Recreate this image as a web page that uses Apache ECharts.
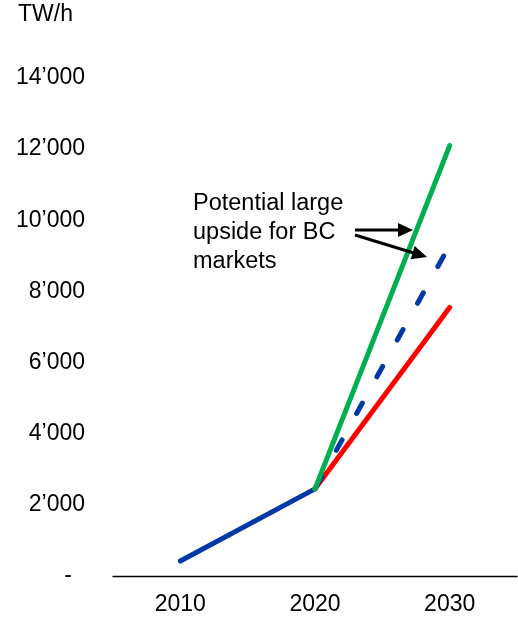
<!DOCTYPE html>
<html>
<head>
<meta charset="utf-8">
<script src="https://cdn.jsdelivr.net/npm/echarts@6/dist/echarts.min.js"></script>
<style>
  html, body { margin: 0; padding: 0; background: #ffffff; }
  #chart { width: 518px; height: 619px; }
</style>
</head>
<body>
<div id="chart"></div>
<script>
// Electricity demand outlook, TW/h
const years = ['2010', '2020', '2030'];
const historic = [420, 2450, null];       // solid blue
const highCase = [null, 2450, 12100];     // green
const midCase = [null, 2450, 9300];       // dashed blue
const lowCase = [null, 2450, 7550];       // red
const yTicks = [0, 2000, 4000, 6000, 8000, 10000, 12000, 14000];
const unitLabel = 'TW/h';
const noteLines = ['Potential large', 'upside for BC', 'markets'];

const FONT = 'Liberation Sans, Arial, sans-serif';
const BLUE = '#0038A8';
const GREEN = '#00B050';
const RED = '#FF0000';

function fmt(v) {
  if (v === 0) return '{z|-}';
  const s = String(Math.round(v));
  return s.replace(/\B(?=(\d{3})+(?!\d))/g, '\u2019');
}

const chart = echarts.init(document.getElementById('chart'), null, { renderer: 'canvas' });

function lineSeries(name, data, color, dash, z) {
  return {
    name: name,
    type: 'line',
    data: data,
    symbol: 'none',
    connectNulls: false,
    z: z,
    lineStyle: {
      color: color, width: 5, type: dash || 'solid', dashOffset: dash ? 40 : 0,
      cap: 'round', join: 'round'
    },
    emphasis: { disabled: true }
  };
}

// arrow from the note to the upper scenarios
function arrow(x1, y1, x2, y2) {
  const dx = x2 - x1, dy = y2 - y1;
  const len = Math.sqrt(dx * dx + dy * dy);
  const ux = dx / len, uy = dy / len;
  const headLen = 15, headHalf = 7;
  const bx = x2 - ux * headLen, by = y2 - uy * headLen;
  const px = -uy * headHalf, py = ux * headHalf;
  return [
    { type: 'line', shape: { x1: x1, y1: y1, x2: bx + ux * 2, y2: by + uy * 2 },
      style: { stroke: '#000', lineWidth: 3 }, z: 50 },
    { type: 'polygon', shape: { points: [[x2, y2], [bx + px, by + py], [bx - px, by - py]] },
      style: { fill: '#000' }, z: 50 }
  ];
}

chart.setOption({
  animation: false,
  backgroundColor: '#ffffff',
  title: {
    text: unitLabel,
    left: 18, top: 3, padding: 0,
    textStyle: { fontFamily: FONT, fontSize: 23, fontWeight: 'normal', color: '#000' }
  },
  grid: { left: 113, right: 1, top: 78, bottom: 43, containLabel: false },
  xAxis: {
    type: 'category',
    data: years,
    boundaryGap: true,
    axisLine: { show: true, lineStyle: { color: '#000', width: 1.3 } },
    axisTick: { show: false },
    axisLabel: { fontFamily: FONT, fontSize: 23, color: '#000', margin: 17 },
    splitLine: { show: false }
  },
  yAxis: {
    type: 'value',
    min: yTicks[0],
    max: yTicks[yTicks.length - 1],
    interval: yTicks[1] - yTicks[0],
    axisLine: { show: false },
    axisTick: { show: false },
    splitLine: { show: false },
    axisLabel: {
      fontFamily: FONT, fontSize: 23, color: '#000', margin: 28,
      formatter: fmt,
      rich: { z: { fontFamily: FONT, fontSize: 23, color: '#000', padding: [0, 13, 0, 0] } }
    }
  },
  series: [
    lineSeries('Historic', historic, BLUE, null, 2),
    lineSeries('Low', lowCase, RED, null, 3),
    lineSeries('Mid', midCase, BLUE, [12, 30], 4),
    lineSeries('High', highCase, GREEN, null, 5)
  ],
  graphic: [
    { type: 'text', left: 193, top: 189, z: 50,
      style: { text: noteLines.join('\n'), font: '23.5px ' + FONT, fill: '#000', lineHeight: 29 } }
  ].concat(arrow(355, 230, 413, 230), arrow(355, 235, 427, 257))
});
</script>
</body>
</html>
